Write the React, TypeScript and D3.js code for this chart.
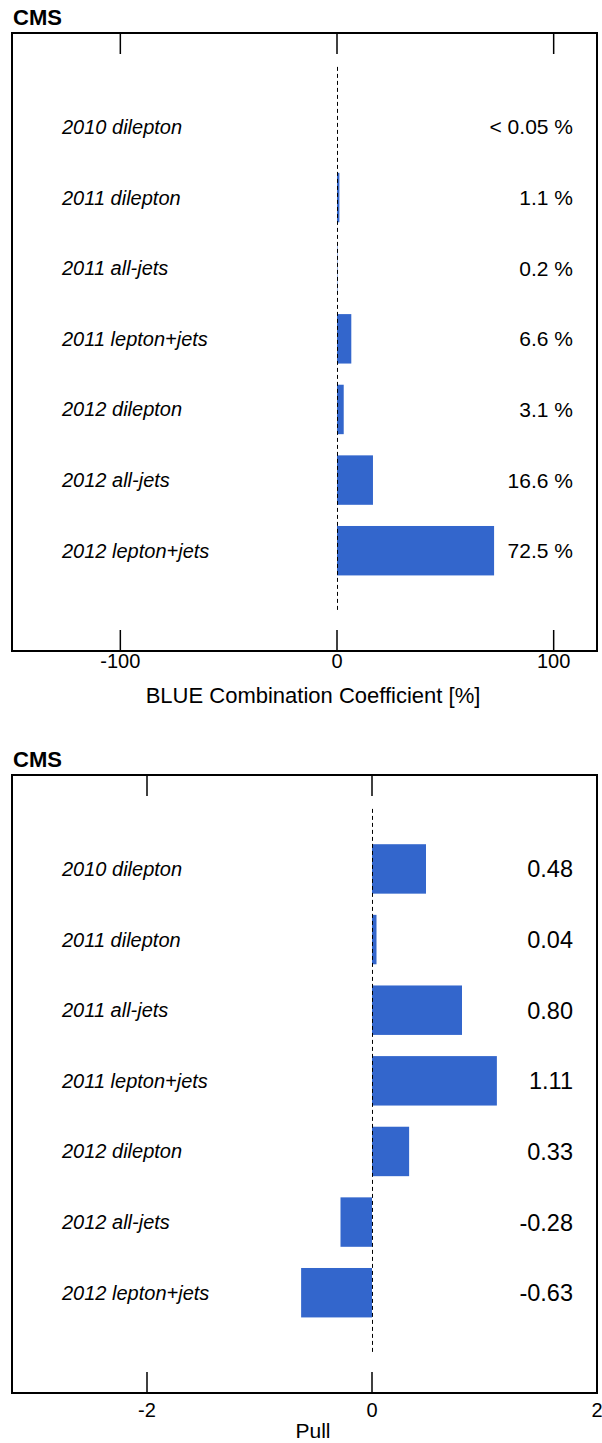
import React from "react";
import * as d3 from "d3";

const categories = [
  "2010 dilepton",
  "2011 dilepton",
  "2011 all-jets",
  "2011 lepton+jets",
  "2012 dilepton",
  "2012 all-jets",
  "2012 lepton+jets",
];
const blueCoeff = [0.0, 1.1, 0.2, 6.6, 3.1, 16.6, 72.5];
const blueLabels = ["< 0.05 %", "1.1 %", "0.2 %", "6.6 %", "3.1 %", "16.6 %", "72.5 %"];
const pulls = [0.48, 0.04, 0.8, 1.11, 0.33, -0.28, -0.63];
const pullLabels = ["0.48", "0.04", "0.80", "1.11", "0.33", "-0.28", "-0.63"];
const blueTicks = [-100, 0, 100];
const pullTicks = [-2, 0, 2];

const W = 602;
const H = 1443;
const FONT = "'Liberation Sans', Arial, Helvetica, sans-serif";
const BAR = "#3366cc";

type PanelProps = {
  top: number;
  domain: [number, number];
  values: number[];
  labels: string[];
  ticks: number[];
  title: string;
  valueFont: number;
  tickLabelY: number;
  titleY: number;
  titleSize: number;
};

function Panel(p: PanelProps) {
  const left = 12;
  const right = 597;
  const fTop = p.top;
  const fBottom = p.top + 618;
  const x = d3.scaleLinear().domain(p.domain).range([left, right]);
  const y = d3.scaleLinear().domain([-1.33, 7.42]).range([fTop, fBottom]);
  const bh = (y(1) - y(0)) * 0.7;
  const tickLen = 21;
  return (
    <g>
      <text x={13} y={fTop - 8} fontFamily={FONT} fontWeight="bold" fontSize={22}>
        CMS
      </text>
      {p.values.map((v, i) => (
        <rect
          key={"b" + i}
          x={Math.min(x(0), x(v))}
          y={y(i) - bh / 2}
          width={Math.abs(x(v) - x(0))}
          height={bh}
          fill={BAR}
        />
      ))}
      <line
        x1={Math.round(x(0)) + 0.5}
        x2={Math.round(x(0)) + 0.5}
        y1={y(-0.85)}
        y2={y(6.86)}
        stroke="#000"
        strokeWidth={1}
        strokeDasharray="4,3"
      />
      {categories.map((c, i) => (
        <text
          key={"c" + i}
          x={62}
          y={y(i) + 7}
          fontFamily={FONT}
          fontStyle="italic"
          fontSize={20}
        >
          {c}
        </text>
      ))}
      {p.labels.map((l, i) => (
        <text
          key={"v" + i}
          x={573}
          y={y(i) + p.valueFont * 0.36}
          textAnchor="end"
          fontFamily={FONT}
          fontSize={p.valueFont}
        >
          {l}
        </text>
      ))}
      {p.ticks.map((t, i) => (
        <g key={"t" + i}>
          <line x1={x(t)} x2={x(t)} y1={fTop} y2={fTop + tickLen} stroke="#000" strokeWidth={1.5} />
          <line x1={x(t)} x2={x(t)} y1={fBottom} y2={fBottom - tickLen} stroke="#000" strokeWidth={1.5} />
          <text
            x={x(t)}
            y={p.tickLabelY}
            textAnchor="middle"
            fontFamily={FONT}
            fontSize={20}
          >
            {t}
          </text>
        </g>
      ))}
      <rect
        x={left}
        y={fTop}
        width={right - left}
        height={fBottom - fTop}
        fill="none"
        stroke="#000"
        strokeWidth={2}
      />
      <text x={313} y={p.titleY} textAnchor="middle" fontFamily={FONT} fontSize={p.titleSize}>
        {p.title}
      </text>
    </g>
  );
}

export default function App() {
  return (
    <div style={{ position: "absolute", left: 0, top: 0 }}>
      <svg width={W} height={H} style={{ display: "block", background: "#fff" }}>
        <Panel
          top={33}
          domain={[-150, 120]}
          values={blueCoeff}
          labels={blueLabels}
          ticks={blueTicks}
          title="BLUE Combination Coefficient [%]"
          valueFont={21}
          tickLabelY={668}
          titleY={703}
          titleSize={22}
        />
        <Panel
          top={775}
          domain={[-3.2, 2]}
          values={pulls}
          labels={pullLabels}
          ticks={pullTicks}
          title="Pull"
          valueFont={23.5}
          tickLabelY={1417}
          titleY={1438}
          titleSize={21}
        />
      </svg>
    </div>
  );
}
